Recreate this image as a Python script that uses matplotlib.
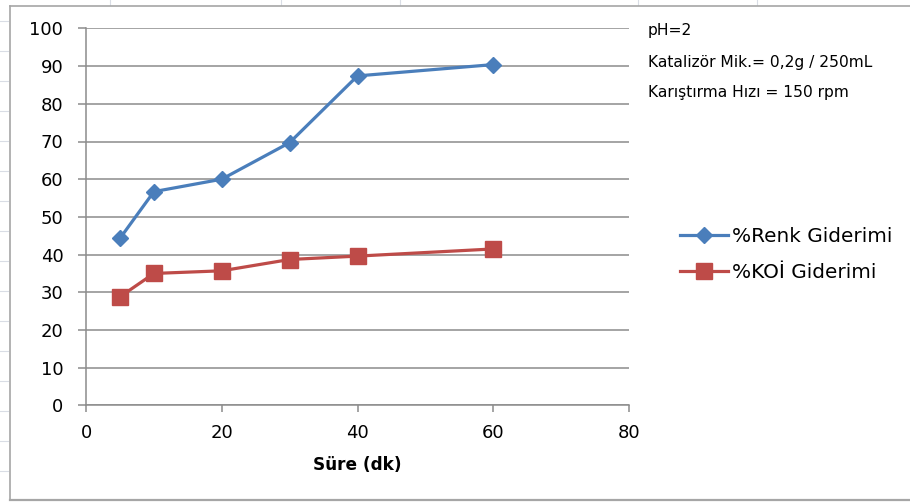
import matplotlib
matplotlib.use("Agg")
import matplotlib.pyplot as plt
from matplotlib.lines import Line2D

plt.rcParams['font.family'] = ['DejaVu Sans']

# Reaction time (min) and removal efficiencies (%)
sure_dk = [5, 10, 20, 30, 40, 60]
renk_giderimi = [44.3, 56.7, 60.0, 69.7, 87.4, 90.4]
koi_giderimi = [28.8, 35.0, 35.7, 38.7, 39.6, 41.5]

series_labels = ["%Renk Giderimi", "%KOİ Giderimi"]
x_ticks = [0, 20, 40, 60, 80]
y_ticks = [0, 10, 20, 30, 40, 50, 60, 70, 80, 90, 100]
conditions = ["pH=2", "Katalizör Mik.= 0,2g / 250mL", "Karıştırma Hızı = 150 rpm"]

W, H = 910, 504
fig = plt.figure(figsize=(W / 100, H / 100), dpi=100)
fig.patch.set_facecolor("white")

# faint worksheet cell lines behind the chart object
for gx in [110, 281, 400, 638, 757]:
    fig.add_artist(Line2D([gx / W] * 2, [1, 1 - 5 / H], color="#d9dde5", lw=0.8))
for gy in range(21, 500, 30):
    fig.add_artist(Line2D([0, 8 / W], [1 - gy / H] * 2, color="#d9dde5", lw=0.8))

# chart object frame
frame_col = "#a6a6a6"
fig.add_artist(Line2D([10 / W, 1], [1 - 6 / H] * 2, color=frame_col, lw=1.2))
fig.add_artist(Line2D([10 / W, 10 / W], [1 - 6 / H, 1 - 500 / H], color=frame_col, lw=1.2))
fig.add_artist(Line2D([10 / W, 1], [1 - 500 / H] * 2, color=frame_col, lw=1.6))

left, right = 86 / W, 629 / W
bottom, top = 1 - 405.4 / H, 1 - 28.4 / H
ax = fig.add_axes([left, bottom, right - left, top - bottom])

blue = "#4a7ebb"
red = "#be4b48"
ax.plot(sure_dk, renk_giderimi, color=blue, lw=2.3, marker="D", ms=8.5,
        markeredgecolor=blue, label=series_labels[0], zorder=3, clip_on=False)
ax.plot(sure_dk, koi_giderimi, color=red, lw=2.3, marker="s", ms=11,
        markeredgecolor=red, label=series_labels[1], zorder=3, clip_on=False)

ax.set_xlim(0, 80)
ax.set_ylim(0, 100)
ax.set_xticks(x_ticks)
ax.set_yticks(y_ticks)

grid_col = "#8c8c8c"
ax.yaxis.grid(True, color=grid_col, lw=1.1)
ax.set_axisbelow(True)
for s in ["top", "right"]:
    ax.spines[s].set_visible(False)
for s in ["left", "bottom"]:
    ax.spines[s].set_color(grid_col)
    ax.spines[s].set_linewidth(1.1)

ax.tick_params(axis="both", direction="out", width=1.1, color=grid_col,
               labelsize=13, labelcolor="black")
ax.tick_params(axis="y", length=5.8, pad=10.5)
ax.tick_params(axis="x", length=5.0, pad=8.5)

ax.set_xlabel("Süre (dk)", fontsize=12.2, fontweight="bold", labelpad=10)

# experimental conditions
for txt, yy in zip(conditions, [30, 62, 92]):
    fig.text(648 / W, 1 - yy / H, txt, fontsize=11.2, va="center", ha="left")

handles, labels = ax.get_legend_handles_labels()
fig.legend(handles, labels, loc="center left",
           bbox_to_anchor=(680 / W, 1 - 254 / H), frameon=False,
           fontsize=14.4, handlelength=2.4, handletextpad=0.2,
           labelspacing=0.85, borderaxespad=0, borderpad=0)

fig.savefig("out.png", dpi=100, facecolor="white")
